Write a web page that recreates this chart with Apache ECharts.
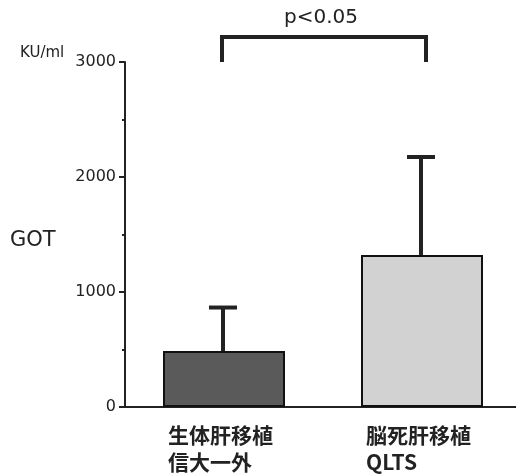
<!DOCTYPE html>
<html>
<head>
<meta charset="utf-8">
<script src="https://cdn.jsdelivr.net/npm/echarts@6/dist/echarts.min.js"></script>
<style>html,body{margin:0;padding:0;background:#fff;}#c{width:516px;height:474px;}</style>
</head>
<body>
<div id="c"></div>
<script>
// ---- data ----
const categories = ['生体肝移植\n信大一外', '脳死肝移植\nQLTS'];
const meanValues = [487, 1322];
const upperValues = [865, 2174];
const yTicks = [0, 1000, 2000, 3000];
const yUnit = 'KU/ml';
const yName = 'GOT';
const sigLabel = 'p<0.05';
const sigPair = [0, 1];
const sigBaseValue = 3000;
const sigTopValue = 3217;

const barColors = ['#5a5a5a', '#d2d2d2'];
const latin = '"DejaVu Sans", Verdana, sans-serif';
const cjk = '"Noto Sans CJK JP"';

const chart = echarts.init(document.getElementById('c'), null, {renderer: 'canvas'});

const errData = categories.map((c, i) => [i, meanValues[i], upperValues[i]]);

chart.setOption({
  animation: false,
  backgroundColor: '#ffffff',
  title: [
    { text: yUnit, left: 15, top: 41, textStyle: { fontFamily: latin, fontSize: 15, fontWeight: 'normal', color: '#222' } },
    { text: yName, left: 5, top: 225, textStyle: { fontFamily: latin, fontSize: 21, fontWeight: 'normal', color: '#222' } }
  ],
  grid: { left: 125, top: 62, width: 396, height: 345, outerBoundsMode: 'none', containLabel: false },
  xAxis: {
    type: 'category',
    data: categories,
    axisLine: { show: true, lineStyle: { color: '#222', width: 2 } },
    axisTick: { show: false },
    axisLabel: {
      margin: 15,
      width: 112,
      align: 'center',
      lineHeight: 27,
      formatter: function (v) {
        return v.split('\n').map(s => '{a|' + s + '}').join('\n');
      },
      rich: {
        a: { align: 'left', fontFamily: cjk, fontSize: 21, fontWeight: 'bold', color: '#222', lineHeight: 27 }
      }
    }
  },
  yAxis: {
    type: 'value',
    min: yTicks[0],
    max: yTicks[yTicks.length - 1],
    interval: yTicks[1] - yTicks[0],
    splitLine: { show: false },
    axisLine: { show: true, lineStyle: { color: '#222', width: 2 } },
    axisTick: { show: true, length: 6, lineStyle: { color: '#222', width: 2 } },
    minorTick: { show: true, splitNumber: 2, length: 3, lineStyle: { color: '#222', width: 2 } },
    axisLabel: { margin: 9, fontFamily: latin, fontSize: 16, color: '#222', formatter: function (v) { return String(v); } }
  },
  series: [
    {
      type: 'bar',
      data: meanValues.map((v, i) => ({ value: v, itemStyle: { color: barColors[i] } })),
      barWidth: 122,
      itemStyle: { borderColor: '#111', borderWidth: 2 }
    },
    {
      type: 'custom',
      clip: false,
      z: 1,
      data: errData,
      renderItem: function (params, api) {
        const x = api.value(0);
        const base = api.coord([x, api.value(1)]);
        const top = api.coord([x, api.value(2)]);
        const half = 14;
        const st = { stroke: '#222', lineWidth: 4 };
        return {
          type: 'group',
          children: [
            { type: 'line', shape: { x1: base[0] - 1, y1: base[1], x2: top[0] - 1, y2: top[1] }, style: st },
            { type: 'line', shape: { x1: top[0] - 1 - half, y1: top[1], x2: top[0] - 1 + half, y2: top[1] }, style: st }
          ]
        };
      }
    },
    {
      type: 'custom',
      clip: false,
      data: [[sigPair[0], sigPair[1], sigBaseValue, sigTopValue]],
      renderItem: function (params, api) {
        const a = api.coord([api.value(0), api.value(2)]);
        const b = api.coord([api.value(1), api.value(2)]);
        const t = api.coord([api.value(0), api.value(3)]);
        const st = { stroke: '#222', lineWidth: 4, fill: null };
        return {
          type: 'group',
          children: [
            { type: 'polyline', shape: { points: [[a[0] - 2, a[1]], [a[0] - 2, t[1]], [b[0] + 4, t[1]], [b[0] + 4, b[1]]] }, style: st },
            { type: 'text', style: { text: sigLabel, x: (a[0] + b[0]) / 2 - 2, y: t[1] - 19, align: 'center', verticalAlign: 'middle', fontFamily: latin, fontSize: 20, fill: '#222' } }
          ]
        };
      }
    }
  ]
});
</script>
</body>
</html>
